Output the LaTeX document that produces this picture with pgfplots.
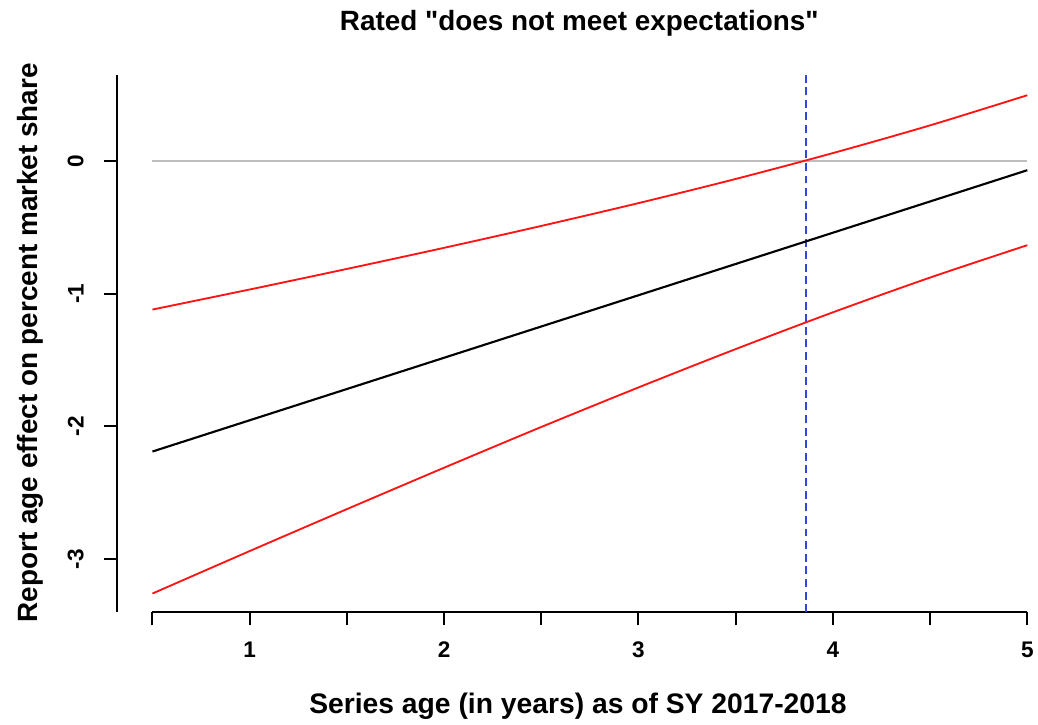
\documentclass[border=0pt]{standalone}
\usepackage{pgfplots}
\pgfplotsset{compat=1.18}
\usepackage{fontspec}
\setmainfont{Liberation Sans}
\newfontfamily\rfont{Liberation Sans}
\definecolor{rred}{RGB}{255,20,20}
\definecolor{rblue}{RGB}{50,70,215}
\definecolor{rgray}{RGB}{190,190,190}
\begin{document}
\begin{tikzpicture}
\begin{axis}[
  at={(0,0)}, anchor=south west,
  scale only axis, width=690pt, height=405pt,
  xmin=0.32, xmax=5.03, ymin=-3.4, ymax=0.65,
  axis line style={draw=none},
  clip=false,
  xtick={0.5,1,1.5,2,2.5,3,3.5,4,4.5,5},
  xticklabels={,1,,2,,3,,4,,5},
  ytick={-3,-2,-1,0},
  yticklabels={-3,-2,-1,0},
  xtick pos=bottom, ytick pos=left,
  tick align=outside,
  major tick length=10pt,
  tick style={line width=1.5pt, black},
  xticklabel style={font=\rfont\fontsize{17}{17}\selectfont\bfseries},
  yticklabel style={rotate=90, anchor=south, font=\rfont\fontsize{17}{17}\selectfont\bfseries},
  xticklabel shift=9pt,
  yticklabel shift=12pt,
]
\draw[line width=1.5pt] (axis cs:0.32,-3.4) -- (axis cs:0.32,0.65);
\draw[line width=1.5pt] (axis cs:0.5,-3.4) -- (axis cs:5,-3.4);
\addplot[rgray, line width=1.2pt] coordinates {(0.5,0) (5,0)};
\addplot[draw=rblue, line width=1.4pt, dash pattern=on 6pt off 3.5pt] coordinates {(3.86,-3.4) (3.86,0.65)};
\addplot[black, line width=1.6pt] coordinates {(0.5,-2.19) (5,-0.07)};
\addplot[rred, line width=1.4pt, smooth] coordinates {
(0.5,-1.120) (1,-0.969) (1.5,-0.814) (2,-0.655) (2.5,-0.490) (3,-0.318) (3.5,-0.136) (4,0.059) (4.5,0.268) (5,0.495)};
\addplot[rred, line width=1.4pt, smooth] coordinates {
(0.5,-3.260) (1,-2.940) (1.5,-2.624) (2,-2.312) (2.5,-2.005) (3,-1.707) (3.5,-1.418) (4,-1.141) (4.5,-0.879) (5,-0.635)};
\end{axis}
\node[font=\rfont\fontsize{21}{24}\selectfont\bfseries] at (348pt,443.5pt) {Rated "does not meet expectations"};
\node[font=\rfont\fontsize{21.3}{24}\selectfont\bfseries] at (347pt,-71.25pt) {Series age (in years) as of SY 2017-2018};
\node[font=\rfont\fontsize{21}{24}\selectfont\bfseries, rotate=90] at (-66pt,203pt) {Report age effect on percent market share};
\path[use as bounding box] (-88.5pt,-83.25pt) rectangle (690pt,461.25pt);
\end{tikzpicture}
\end{document}
